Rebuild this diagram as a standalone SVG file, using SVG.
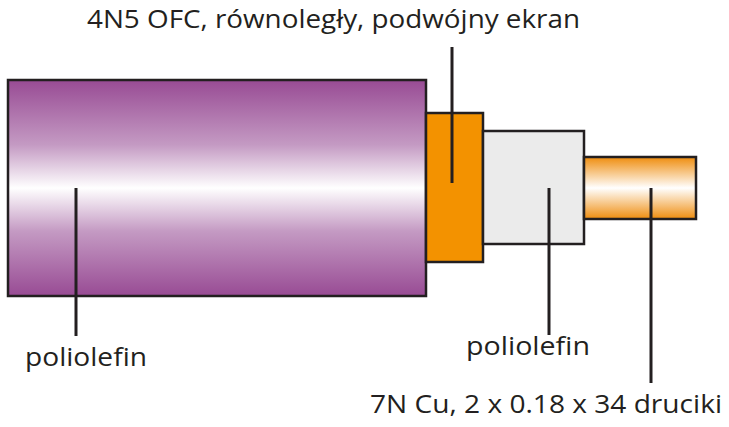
<svg xmlns="http://www.w3.org/2000/svg" width="729" height="427" viewBox="0 0 729 427">
<style>
.o{stroke:#231f20;stroke-width:2.5}
.l{stroke:#231f20;stroke-width:3;fill:none}
text{font-family:"Open Sans","Liberation Sans",sans-serif;font-size:25px;fill:#231f20}
</style>
<defs>
<linearGradient id="gp" x1="0" y1="0" x2="0" y2="1">
<stop offset="0" stop-color="#984b94"/>
<stop offset="0.3" stop-color="#c49ac3"/>
<stop offset="0.5" stop-color="#ffffff"/>
<stop offset="0.7" stop-color="#c49ac3"/>
<stop offset="1" stop-color="#984b94"/>
</linearGradient>
<linearGradient id="gc" x1="0" y1="0" x2="0" y2="1">
<stop offset="0" stop-color="#ef8d0e"/>
<stop offset="0.5" stop-color="#ffffff"/>
<stop offset="1" stop-color="#ef8d0e"/>
</linearGradient>
</defs>
<g id="jacket"><rect class="o" x="8" y="80" width="418" height="216" fill="url(#gp)"/></g>
<g id="shield"><rect class="o" x="426" y="113" width="57" height="149" fill="#f39200"/></g>
<g id="insulation"><rect class="o" x="483" y="131" width="101" height="113" fill="#ebebeb"/></g>
<g id="core"><rect class="o" x="584" y="157" width="112" height="62" fill="url(#gc)"/></g>
<g id="connectors">
<line class="l" x1="452" y1="47" x2="452" y2="183"/>
<line class="l" x1="76" y1="188" x2="76" y2="336"/>
<line class="l" x1="549" y1="188" x2="549" y2="335"/>
<line class="l" x1="651" y1="188" x2="651" y2="383"/>
</g>
<g id="labels">
<text x="87" y="28" textLength="493" lengthAdjust="spacingAndGlyphs">4N5 OFC, równoległy, podwójny ekran</text>
<text x="25" y="366" textLength="122" lengthAdjust="spacingAndGlyphs">poliolefin</text>
<text x="466" y="355" textLength="124" lengthAdjust="spacingAndGlyphs">poliolefin</text>
<text x="370" y="413" textLength="352" lengthAdjust="spacingAndGlyphs">7N Cu, 2 x 0.18 x 34 druciki</text>
</g>
</svg>
